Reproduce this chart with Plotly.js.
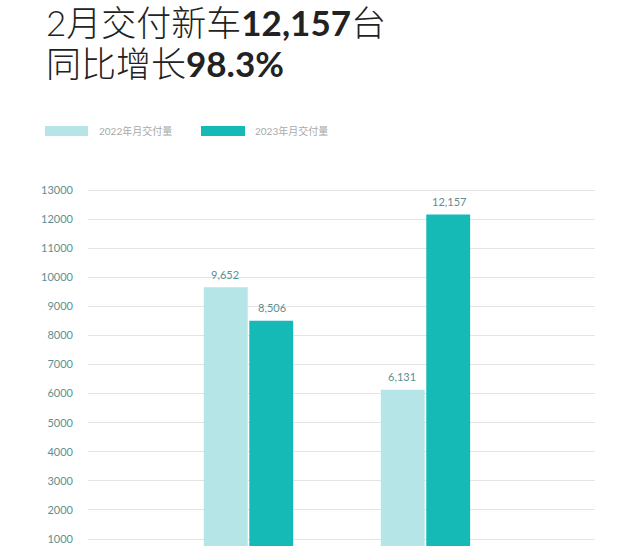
<!DOCTYPE html>
<html>
<head>
<meta charset="utf-8">
<script src="https://cdn.plot.ly/plotly-3.0.1.min.js"></script>
<style>html,body{margin:0;padding:0;background:#fff;overflow:hidden}#chart{width:640px;height:546px}</style>
</head>
<body>
<div id="chart"></div>
<script>
const categories = ["1月", "2月"];
const seriesNames = ["2022年月交付量", "2023年月交付量"];
const values2022 = [9652, 6131];
const values2023 = [8506, 12157];
const tickValues = [1000,2000,3000,4000,5000,6000,7000,8000,9000,10000,11000,12000,13000];

const colors = ["#b5e5e7", "#15bab6"];
const FONT = "Lato, 'Noto Sans CJK SC', sans-serif";

const traces = [values2022, values2023].map((vals, i) => ({
  type: "bar",
  name: seriesNames[i],
  x: categories,
  y: vals,
  marker: {color: colors[i]},
  hoverinfo: "skip"
}));

const fmt = v => v.toLocaleString("en-US");
const annotations = [];
[values2022, values2023].forEach((vals, i) => {
  vals.forEach((v, j) => {
    annotations.push({
      x: categories[j], y: v, xref: "x", yref: "y",
      text: fmt(v), showarrow: false,
      xshift: i === 0 ? -23.5 : 23.5,
      yanchor: "middle", yshift: 13,
      font: {family: FONT, size: 11, color: "#5d8f91"}
    });
  });
});

// title lines (paper coords: y=0 at px 546, y=1 at px 185; x=0 at px 88, x=1 at px 595)
const py = px => (546 - px) / 361;
const pxx = px => (px - 88) / 507;
annotations.push({
  xref: "paper", yref: "paper", x: pxx(44), y: py(22), xanchor: "left", yanchor: "middle",
  text: "2月交付新车<b>12,157</b>台", showarrow: false,
  font: {family: FONT, size: 35, color: "#222222", weight: 300}
});
annotations.push({
  xref: "paper", yref: "paper", x: pxx(44), y: py(63), xanchor: "left", yanchor: "middle",
  text: "同比增长<b>98.3%</b>", showarrow: false,
  font: {family: FONT, size: 35, color: "#222222", weight: 300}
});

// legend
const shapes = [];
const legendX = [[45, 88, 97], [201, 245, 253]];
seriesNames.forEach((name, i) => {
  shapes.push({type: "rect", xref: "paper", yref: "paper",
    x0: pxx(legendX[i][0]), x1: pxx(legendX[i][1]), y0: py(136), y1: py(126),
    fillcolor: colors[i], line: {width: 0}});
  annotations.push({xref: "paper", yref: "paper", x: pxx(legendX[i][2]), y: py(131),
    xanchor: "left", yanchor: "middle", text: name, showarrow: false,
    font: {family: FONT, size: 10, color: "#a9a9a9"}});
});

const layout = {
  width: 640, height: 546,
  margin: {l: 88, r: 45, t: 185, b: 0},
  paper_bgcolor: "#ffffff", plot_bgcolor: "#ffffff",
  showlegend: false,
  barmode: "group",
  bargap: 0.486,
  bargroupgap: 0.035,
  font: {family: FONT},
  xaxis: {
    type: "category",
    range: [-0.907, 1.958],
    showgrid: false, zeroline: false, showline: false,
    showticklabels: false, ticks: ""
  },
  yaxis: {
    range: [759.3, 13172],
    tickvals: tickValues,
    ticktext: tickValues.map(String),
    showgrid: true, gridcolor: "#e4e4e4", gridwidth: 1,
    zeroline: false, showline: false,
    ticks: "", ticklabelstandoff: 14,
    tickfont: {family: FONT, size: 11, color: "#5d8f91"}
  },
  shapes: shapes,
  annotations: annotations
};

Plotly.newPlot("chart", traces, layout, {displayModeBar: false, staticPlot: true});
</script>
</body>
</html>
